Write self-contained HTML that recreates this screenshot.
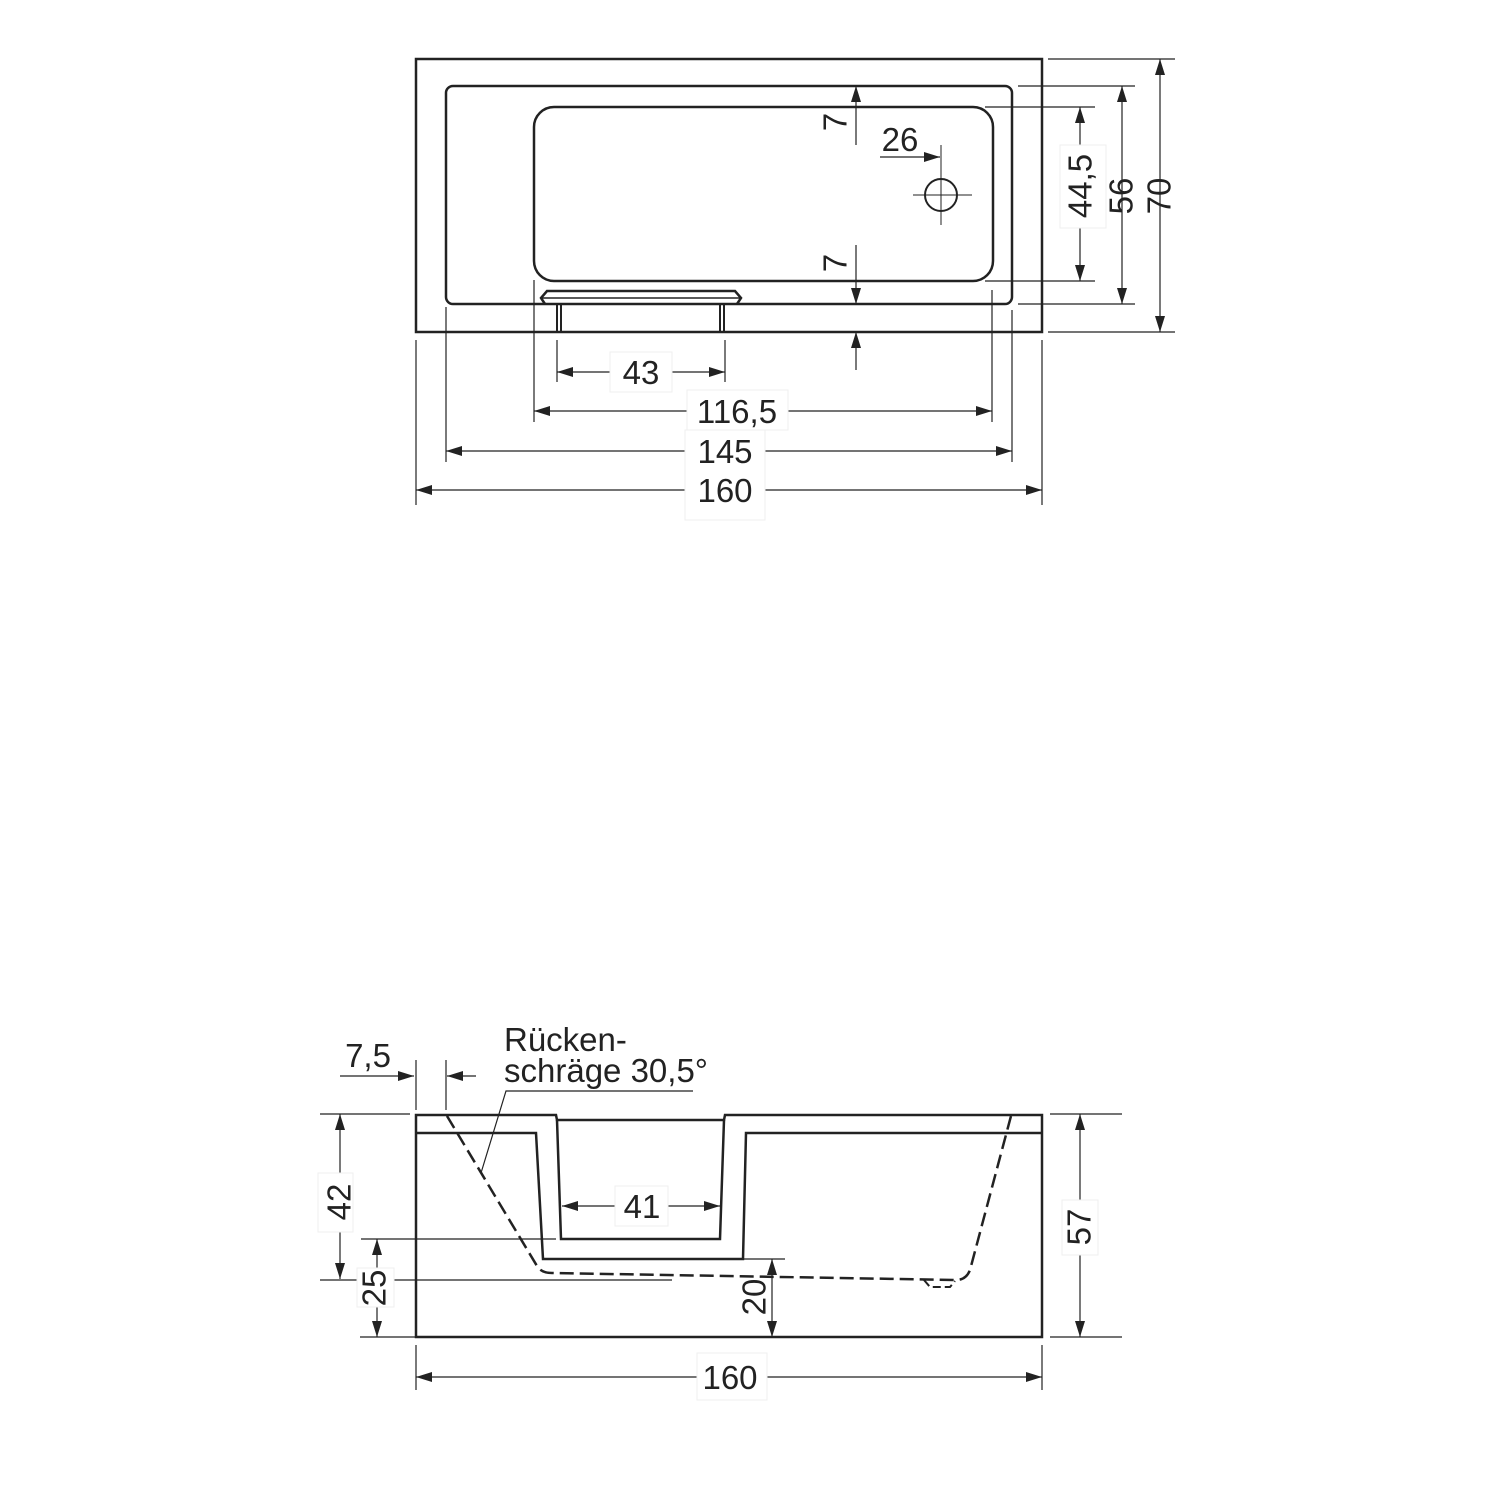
<!DOCTYPE html>
<html><head><meta charset="utf-8"><style>
html,body{margin:0;padding:0;background:#fff}
svg{display:block}
text{font-family:"Liberation Sans Narrow","Liberation Sans",sans-serif;fill:#222;font-size:33px}
</style></head><body>
<svg width="1500" height="1500" viewBox="0 0 1500 1500" xmlns="http://www.w3.org/2000/svg">
<defs>
<marker id="a" viewBox="0 0 16 10" refX="16" refY="5" markerWidth="16" markerHeight="10" markerUnits="userSpaceOnUse" orient="auto-start-reverse"><path d="M0,0 L16,5 L0,10 z" fill="#222"/></marker>
</defs>
<g stroke="#222" fill="none">
<rect x="416" y="59" width="626" height="273" stroke-width="2.5"/>
<rect x="446" y="86" width="566" height="218" rx="7" stroke-width="2.5"/>
<rect x="534" y="107" width="459" height="174" rx="20" stroke-width="2.5"/>
<path d="M545,304 L541,298 L547,291 L735,291 L741,298 L737,304" stroke-width="2.5"/>
<line x1="541" y1="298" x2="741" y2="298" stroke-width="1.5"/>
<path d="M557,304 V332 M561,304 V332 M720,304 V332 M724,304 V332" stroke-width="2"/>
<ellipse cx="941" cy="195" rx="16" ry="16" stroke-width="2"/>
<path d="M941,145 V225 M913,195 H972" stroke-width="1"/>
<g stroke-width="1.2">
<line x1="856" y1="145" x2="856" y2="86" marker-end="url(#a)"/>
<line x1="856" y1="245" x2="856" y2="304" marker-end="url(#a)"/>
<line x1="856" y1="370" x2="856" y2="332" marker-end="url(#a)"/>
<line x1="880" y1="157" x2="940" y2="157" marker-end="url(#a)"/>
<path d="M1048,59 H1175 M1018,86 H1135 M985,107 H1095 M985,281 H1095 M1018,304 H1135 M1048,332 H1175"/>
<line x1="1080" y1="107" x2="1080" y2="281" marker-start="url(#a)" marker-end="url(#a)"/>
<line x1="1122" y1="86" x2="1122" y2="304" marker-start="url(#a)" marker-end="url(#a)"/>
<line x1="1160" y1="59" x2="1160" y2="332" marker-start="url(#a)" marker-end="url(#a)"/>
<path d="M557,340 V382 M725,340 V382 M534,280 V422 M992,290 V422 M446,307 V462 M1012,310 V462 M416,340 V505 M1042,340 V505"/>
<line x1="557" y1="372" x2="725" y2="372" marker-start="url(#a)" marker-end="url(#a)"/>
<line x1="534" y1="411" x2="992" y2="411" marker-start="url(#a)" marker-end="url(#a)"/>
<line x1="446" y1="451" x2="1012" y2="451" marker-start="url(#a)" marker-end="url(#a)"/>
<line x1="416" y1="490" x2="1042" y2="490" marker-start="url(#a)" marker-end="url(#a)"/>
</g>
</g>
<g fill="#fff" stroke="#efefef" stroke-width="1">
<rect x="1060" y="145" width="46" height="83"/>
<rect x="610" y="352" width="62" height="40"/>
<rect x="687" y="390" width="101" height="40"/>
<rect x="685" y="430" width="80" height="90"/>
</g>
<text x="838" y="122" transform="rotate(-90 838 122)" text-anchor="middle" dominant-baseline="middle">7</text>
<text x="838" y="263" transform="rotate(-90 838 263)" text-anchor="middle" dominant-baseline="middle">7</text>
<text x="900" y="151" text-anchor="middle">26</text>
<text x="1083" y="186" transform="rotate(-90 1083 186)" text-anchor="middle" dominant-baseline="middle">44,5</text>
<text x="1124" y="196" transform="rotate(-90 1124 196)" text-anchor="middle" dominant-baseline="middle">56</text>
<text x="1162" y="196" transform="rotate(-90 1162 196)" text-anchor="middle" dominant-baseline="middle">70</text>
<text x="641" y="384" text-anchor="middle">43</text>
<text x="737" y="423" text-anchor="middle">116,5</text>
<text x="725" y="463" text-anchor="middle">145</text>
<text x="725" y="502" text-anchor="middle">160</text>

<g stroke="#222" fill="none">
<path d="M416,1337 V1115 H556 L557,1120 H724 L725,1115 H1042 V1337 Z" stroke-width="2.5"/>
<path d="M557,1120 L561,1239 H720 L724,1120" stroke-width="2.5"/>
<path d="M416,1133 H536 L543,1259 H743 L746,1133 H1042" stroke-width="2.5"/>
<path d="M447,1116 L537,1266 Q541,1273 552,1273 L956,1280 Q966,1280 970,1270 L1011,1116" stroke-width="2.5" stroke-dasharray="14,6"/>
<path d="M924,1280 L930,1287 H950 L955,1281" stroke-width="2" stroke-dasharray="8,4"/>
<path d="M693,1091 H506 L481,1173" stroke-width="1.2"/>
<g stroke-width="1.2">
<path d="M416,1060 V1110 M446,1060 V1110"/>
<line x1="340" y1="1076" x2="414" y2="1076" marker-end="url(#a)"/>
<line x1="476" y1="1076" x2="447" y2="1076" marker-end="url(#a)"/>
<path d="M320,1114 H410 M320,1280 H672 M361,1239 H556 M360,1337 H416"/>
<line x1="340" y1="1114" x2="340" y2="1279" marker-start="url(#a)" marker-end="url(#a)"/>
<line x1="377" y1="1239" x2="377" y2="1337" marker-start="url(#a)" marker-end="url(#a)"/>
<path d="M741,1259 H785"/>
<line x1="772" y1="1259" x2="772" y2="1337" marker-start="url(#a)" marker-end="url(#a)"/>
<path d="M1050,1114 H1122 M1050,1337 H1122"/>
<line x1="1080" y1="1114" x2="1080" y2="1337" marker-start="url(#a)" marker-end="url(#a)"/>
<line x1="562" y1="1206" x2="720" y2="1206" marker-start="url(#a)" marker-end="url(#a)"/>
<path d="M416,1345 V1390 M1042,1345 V1390"/>
<line x1="416" y1="1377" x2="1042" y2="1377" marker-start="url(#a)" marker-end="url(#a)"/>
</g>
</g>
<g fill="#fff" stroke="#efefef" stroke-width="1">
<rect x="318" y="1173" width="35" height="59"/>
<rect x="357" y="1268" width="37" height="39"/>
<rect x="1062" y="1200" width="36" height="55"/>
<rect x="615" y="1186" width="53" height="40"/>
<rect x="697" y="1353" width="70" height="47"/>
</g>
<text x="368" y="1067" text-anchor="middle">7,5</text>
<text x="504" y="1051">Rücken-</text>
<text x="504" y="1082">schräge 30,5°</text>
<text x="342" y="1202" transform="rotate(-90 342 1202)" text-anchor="middle" dominant-baseline="middle">42</text>
<text x="377" y="1288" transform="rotate(-90 377 1288)" text-anchor="middle" dominant-baseline="middle">25</text>
<text x="757" y="1297" transform="rotate(-90 757 1297)" text-anchor="middle" dominant-baseline="middle">20</text>
<text x="1082" y="1227" transform="rotate(-90 1082 1227)" text-anchor="middle" dominant-baseline="middle">57</text>
<text x="642" y="1218" text-anchor="middle">41</text>
<text x="730" y="1389" text-anchor="middle">160</text>
</svg>
</body></html>
